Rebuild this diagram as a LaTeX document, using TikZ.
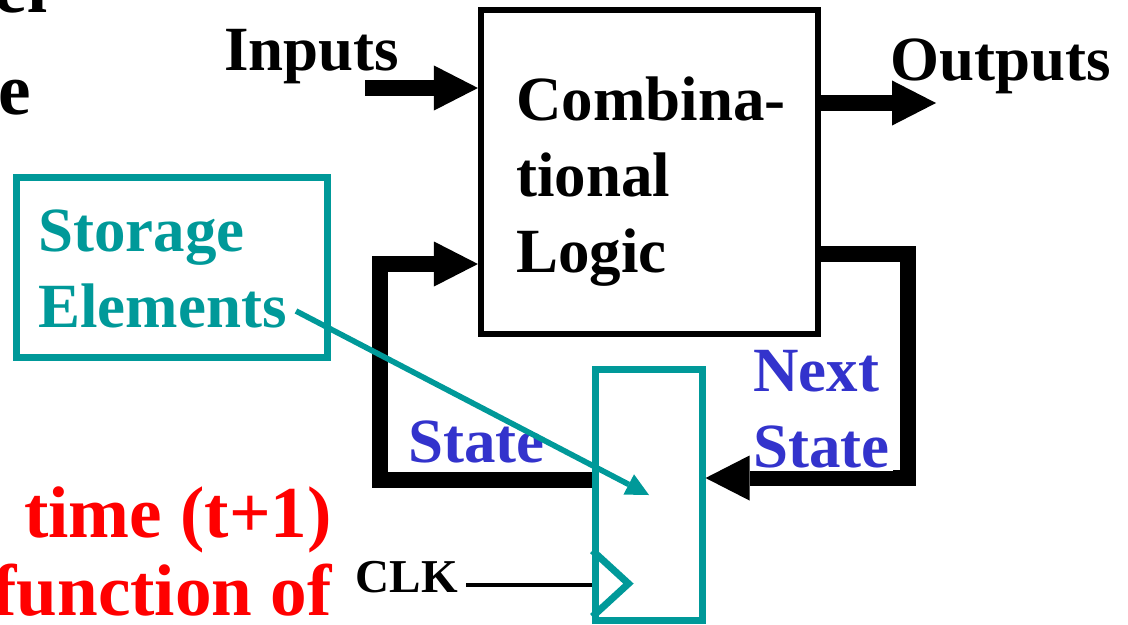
\documentclass[tikz,border=0pt]{standalone}
\usepackage{fontspec}
\setmainfont{Liberation Serif}
\usetikzlibrary{arrows.meta}
\definecolor{regteal}{RGB}{0,153,153}
\definecolor{stblue}{RGB}{51,51,204}

\begin{document}
\begin{tikzpicture}[x=0.01cm,y=-0.01cm,
        every node/.style={inner sep=1pt,font=\bfseries\fontsize{17.9}{21.5}\selectfont},
        bus/.style={line width=4.3pt,line join=miter},
        bustip/.style={-{Triangle[length=12.5pt,width=12.8pt,line width=0pt]}},
        bigred/.style={red,font=\bfseries\fontsize{20.8}{25}\selectfont}]
    \useasboundingbox (0,0) rectangle (1128,624);

    % slide text cut off on the left
    \node[bigred,black,anchor=base east] at (52,12) (t1) {el};
    \node[bigred,black,anchor=base east] at (35,114) (t2) {e};
    \node[bigred,anchor=base east] at (336,537) (r1) {time (t+1)};
    \node[bigred,anchor=base east] at (336,615) (r2) {function of};

    % combinational logic and register
    \node[draw,line width=1.7pt,minimum width=3.37cm,minimum height=3.24cm] at (649.5,172) (clb) {};
    \node[anchor=base west,align=left] at (512,272) (clbtxt) {Combina-\\tional\\Logic};
    \node[draw=regteal,line width=2pt,minimum width=1.06cm,minimum height=2.5cm] at (649,495) (ff) {};
    \draw[regteal,line width=2pt] ([shift={(0,-73)}]ff.south west) -- ++(36,33) -- ++(-36,33);

    % inputs and outputs
    \node[anchor=base west] at (220,70) (inl) {Inputs};
    \node[anchor=base west] at (886,80) (outl) {Outputs};
    \coordinate (inp) at (365,88);
    \draw[bus,bustip] (inp) -- (inp -| clb.west);
    \coordinate (outp) at (936,103);
    \draw[bus,bustip] (outp -| clb.east) -- (outp);

    % state loop
    \coordinate (sBot) at (380,480);
    \coordinate (sTop) at (380,264);
    \draw[bus,bustip] (ff.west |- sBot) -- (sBot) -- (sTop) -- (sTop -| clb.west);
    \coordinate (nsTop) at (908,254);
    \coordinate (nsBot) at (908,478);
    \draw[bus,bustip] (clb.east |- nsTop) -- (nsTop) -- (nsBot) -- (ff.east |- nsBot);
    \node[stblue,anchor=base west] at (404,462) (st) {State};
    \node[stblue,fill=white,anchor=base west,align=left] at (749,467) (nst) {Next\\State};

    % clock
    \node[font=\bfseries\fontsize{13.4}{16}\selectfont,anchor=base east] at (462,592) (clk) {CLK};
    \coordinate (ck) at (466,585);
    \draw[line width=1.4pt] (ck) -- (ck -| ff.west);

    % storage elements callout
    \node[draw=regteal,line width=2pt,minimum width=3.1cm,minimum height=1.79cm] at (172,267.5) (sto) {};
    \node[regteal,anchor=base west,align=left] at (34,327) (stotxt) {Storage\\Elements};
    \coordinate (selem) at (296,311);
    \draw[regteal,line width=1.6pt,-{Triangle[length=6.5pt,width=6.5pt,line width=0pt]}] (selem) -- (ff.center);
\end{tikzpicture}
\end{document}
